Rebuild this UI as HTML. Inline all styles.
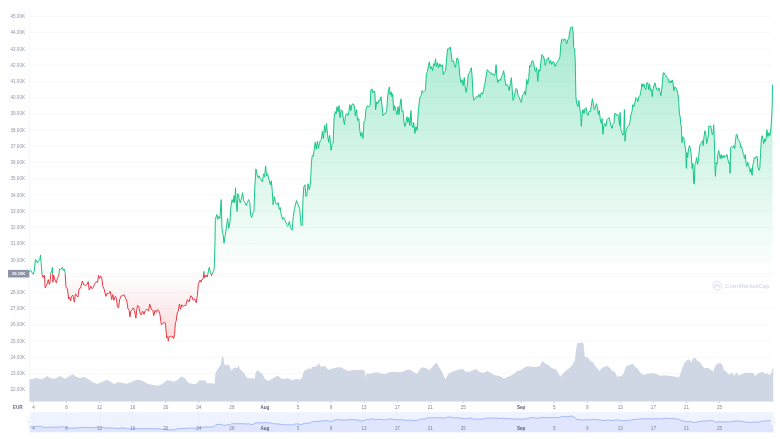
<!DOCTYPE html>
<html lang="en"><head><meta charset="utf-8"><title>Bitcoin price chart (EUR)</title>
<style>html,body{margin:0;padding:0;background:#fff}body{width:780px;height:439px;overflow:hidden}svg{display:block}text{font-family:"Liberation Sans",Arial,sans-serif}</style></head><body>
<svg width="780" height="439" viewBox="0 0 780 439">
<defs>
<linearGradient id="gg" gradientUnits="userSpaceOnUse" x1="0" y1="27" x2="0" y2="273.7"><stop offset="0" stop-color="#16c784" stop-opacity="0.38"/><stop offset="1" stop-color="#16c784" stop-opacity="0"/></linearGradient>
<linearGradient id="rg" gradientUnits="userSpaceOnUse" x1="0" y1="273.7" x2="0" y2="341"><stop offset="0" stop-color="#ea3943" stop-opacity="0"/><stop offset="1" stop-color="#ea3943" stop-opacity="0.19"/></linearGradient>
<clipPath id="up"><rect x="0" y="0" width="780" height="274.2"/></clipPath>
<clipPath id="dn"><rect x="0" y="274.2" width="780" height="200"/></clipPath>
</defs>
<rect width="780" height="439" fill="#fff"/>
<path d="M29.5 16.4 H773.4 M29.5 32.6 H773.4 M29.5 48.9 H773.4 M29.5 65.1 H773.4 M29.5 81.3 H773.4 M29.5 97.6 H773.4 M29.5 113.8 H773.4 M29.5 130 H773.4 M29.5 146.2 H773.4 M29.5 162.5 H773.4 M29.5 178.7 H773.4 M29.5 194.9 H773.4 M29.5 211.2 H773.4 M29.5 227.4 H773.4 M29.5 243.6 H773.4 M29.5 259.9 H773.4 M29.5 276.1 H773.4 M29.5 292.3 H773.4 M29.5 308.5 H773.4 M29.5 324.8 H773.4 M29.5 341 H773.4 M29.5 357.2 H773.4 M29.5 373.5 H773.4 M29.5 389.7 H773.4" stroke="#f1f3f6" stroke-width="0.6" fill="none"/>
<path d="M29.5 6.5 V401.5" stroke="#eff2f5" stroke-width="0.6" fill="none"/>
<g font-size="4.6" fill="#8e96aa" text-anchor="end">
<text x="25" y="18">45.00K</text>
<text x="25" y="34.2">44.00K</text>
<text x="25" y="50.5">43.00K</text>
<text x="25" y="66.7">42.00K</text>
<text x="25" y="82.9">41.00K</text>
<text x="25" y="99.2">40.00K</text>
<text x="25" y="115.4">39.00K</text>
<text x="25" y="131.6">38.00K</text>
<text x="25" y="147.8">37.00K</text>
<text x="25" y="164.1">36.00K</text>
<text x="25" y="180.3">35.00K</text>
<text x="25" y="196.5">34.00K</text>
<text x="25" y="212.8">33.00K</text>
<text x="25" y="229">32.00K</text>
<text x="25" y="245.2">31.00K</text>
<text x="25" y="261.5">30.00K</text>
<text x="25" y="293.9">28.00K</text>
<text x="25" y="310.1">27.00K</text>
<text x="25" y="326.4">26.00K</text>
<text x="25" y="342.6">25.00K</text>
<text x="25" y="358.8">24.00K</text>
<text x="25" y="375.1">23.00K</text>
<text x="25" y="391.3">22.00K</text>
</g>
<path d="M29 271.5 L30.9 270.5 L32.1 272.8 L33.3 274.3 L34.4 270.5 L35.4 259.7 L36.4 260.3 L37.4 263.1 L38.3 260.8 L39.8 259.7 L40.5 254.9 L41 261.3 L42.1 274.6 L43 277.5 L44.4 275.1 L45.2 287.9 L46.5 285.4 L47.5 282.8 L48.3 279.7 L49.3 284.4 L50.1 281.8 L50.8 273.1 L51.8 270.5 L52.4 267.4 L52.9 282.3 L53.6 275.1 L54.9 279.7 L56.4 282.8 L57.5 277.7 L58.6 276.2 L59.6 269 L60.8 269.5 L62.4 267.2 L63.4 270.5 L64.2 269 L65.1 272.4 L66 287.4 L67.4 288.7 L68.7 299 L69.6 297.1 L70.6 300.9 L71.5 296.4 L72.8 295.1 L74.4 302.2 L75.4 293.8 L76.7 295.8 L77.9 297.1 L79.2 288.7 L80.5 288.1 L82.4 281 L83.7 284.9 L85.6 285.5 L87.2 284.2 L88.2 281.7 L89.2 290 L90.8 286.2 L92.1 288.7 L93.3 287.4 L94.6 284.2 L96.2 281.7 L97.6 282.3 L98.5 275.3 L99.5 278.5 L100.5 275.9 L101.7 277.8 L102.9 286.2 L104.2 289.4 L105.9 296.4 L107.2 293.2 L108.7 293.8 L110.3 291.3 L111.7 299.6 L112.8 294.5 L113.8 300.3 L115.4 296.4 L116.4 298.3 L117.4 306.7 L118.6 307.9 L119.6 299.6 L121.3 295.8 L122.8 295.8 L123.8 294.5 L125.4 297.7 L126.9 301.5 L127.9 308.6 L129.2 310.5 L130 316.9 L130.8 311.2 L132.1 309.9 L133.3 307.9 L134.4 310.5 L135.9 318.2 L136.9 308.6 L137.7 305.4 L138.8 306.7 L140.1 313.1 L141.2 315 L142.7 311.2 L144 314.4 L145.3 310.5 L146.9 309.2 L148.5 311.2 L149.7 304.1 L151.5 309.8 L152.8 310.4 L153.8 315.6 L155.1 310.4 L156.4 312.4 L157.4 309.8 L158.7 310.4 L160 314.9 L161.3 324.5 L162.8 323.9 L164.4 322 L165.4 323.3 L166.7 338 L167.7 336.7 L168.3 341.2 L169.2 336.7 L170.5 336.1 L171.8 337.4 L172.8 336.1 L173.7 338.6 L174.6 334.2 L175.4 322.6 L176.3 320.7 L177.2 313 L178.2 311.1 L179.5 304 L180.5 309.2 L181.8 304.7 L183.1 306.6 L184.4 305.3 L185.6 305.9 L187.4 299.5 L189.1 302.1 L190.8 295.7 L192.1 297 L193.2 300.2 L194.6 298.9 L196.2 302.7 L197.4 295.7 L198.3 284.1 L200 280.2 L200.9 282.2 L201.8 279.6 L203.2 278.9 L203.8 271.3 L204.7 277.7 L206 275.1 L207.3 277 L209.2 267.4 L210.5 272.5 L211.5 275.7 L213.1 271.9 L214.1 269.3 L214.6 257.8 L215 242.4 L215.3 219.4 L216.9 214.5 L217.7 219.4 L218.9 216.4 L219.9 218.4 L221.2 199.6 L222 229.3 L223.2 235.2 L224 243.2 L225.2 235.2 L226.4 227.3 L227.6 218.4 L228.8 228.3 L230 221.4 L230.9 206.5 L232.1 199.6 L233.1 202.6 L234.1 195.6 L234.7 202.6 L235.5 187.7 L236.3 202.6 L237.1 211.5 L237.9 193.7 L239.1 198.6 L240.2 202.6 L241.4 198.6 L242.6 192.7 L243.6 200.6 L245 202.6 L246.2 205.5 L247.4 202.6 L248.6 199.6 L249.8 202.6 L250.7 215.4 L251.7 217.4 L252.7 213.5 L253.9 211.5 L254.7 189.7 L255.9 168.9 L256.9 173.9 L258.1 177.8 L259.1 175.8 L260.4 178.8 L262.4 181.8 L263.6 173.9 L264.6 176.8 L265.6 165.9 L266.6 175.8 L267.6 173.9 L268.8 178.8 L270.3 184.8 L271.3 180.8 L272.3 191.7 L273.1 204.6 L274.3 196.6 L275.5 202.6 L276.9 204.6 L278.1 202.6 L279.3 209.5 L280.2 207.5 L281.2 214.5 L282.6 219.4 L283.6 217.4 L285.2 220.4 L286.6 224.4 L287.8 226.3 L289.4 221.4 L290.5 227.3 L292.1 230.3 L293.3 216.4 L294.5 208.5 L296.5 200.6 L298.1 204.6 L299.7 208.5 L301 225.3 L302.2 225.3 L303 199.6 L303.8 186.7 L305 184.8 L306 196.6 L306.8 195.6 L308 183.8 L309.4 189.7 L310.5 182.8 L311.5 161.5 L312.3 155.2 L313.3 156.2 L314.3 148.3 L315.2 142.3 L316.2 149.3 L317.4 141.3 L318.4 148.3 L319.4 143.3 L320.4 140.3 L321.4 139.4 L322.4 131.4 L323.4 138.4 L324.6 125.5 L325.5 132.4 L326.5 123.5 L327.5 134.4 L328.7 142.3 L329.7 135.4 L331.1 150.2 L332.1 144.3 L333.1 143.3 L334.1 117.6 L335.2 111.6 L336.2 113.6 L337 106.7 L338 111.6 L339 105.7 L340 117.6 L341.2 109.7 L342.2 110.6 L343.2 117.6 L344.4 124.5 L345.5 115.6 L346.7 113.6 L347.9 115.6 L348.9 111.6 L349.9 104.7 L350.9 110.6 L351.9 104.7 L353.1 103.7 L354.3 105.7 L355.4 115.6 L356.4 109.7 L357.6 120.5 L358.8 118.6 L359.8 130.4 L360.8 136.4 L361.8 132.4 L363 138.4 L364 121.5 L365 120.5 L365.9 109.7 L367.3 105.7 L368.9 106.7 L370.1 105.7 L370.9 89.9 L371.9 88.9 L372.9 92.8 L374.1 90.8 L374.9 92.8 L375.6 109.7 L376.8 101.7 L377.8 103.7 L379 99.8 L380 100.7 L381 96.8 L382 105.7 L383 115.6 L384.4 113.6 L385.7 113.6 L386.7 110.6 L387.7 95.8 L388.5 90.8 L389.3 86.9 L390.1 94.8 L391.1 91.8 L391.9 96.8 L392.7 93.8 L393.7 110.6 L394.7 105.7 L395.8 110.6 L397 114.6 L398 106.7 L399 114.6 L400 104.7 L401 98.8 L402 111.6 L403 110.6 L404 122.5 L405 126.5 L406.1 121.5 L406.9 116.6 L407.9 122.5 L408.9 117.6 L409.9 125.5 L410.9 110.6 L411.9 124.5 L412.9 127.5 L413.7 122.5 L414.9 133.4 L416 126.5 L417.2 130.4 L418.4 109.7 L419.9 97.4 L421.1 95.4 L422.1 90.5 L423.3 92.5 L424.3 91.5 L425.4 90.5 L426.4 73.6 L427.4 71.7 L428.4 65.7 L429.4 61.8 L430.4 68.7 L431.4 66.7 L432.6 70.7 L433.6 63.7 L434.6 65.7 L435.5 58.8 L436.5 66.7 L437.5 62.8 L438.7 67.7 L439.9 63.7 L441.1 66.7 L442.3 64.7 L443.3 74.6 L444.5 71.7 L445.6 70.7 L446.6 58.8 L447.6 48.9 L449 48.9 L450.2 46.9 L451.2 53.8 L452.2 61.8 L453.4 60.8 L454.4 64.7 L455.5 67.7 L456.7 58.8 L457.7 57.8 L458.9 64.7 L459.9 76.6 L460.9 82.6 L462.1 79.6 L463.1 85.5 L464.3 77.6 L465.2 86.5 L466.2 92.5 L467.2 86.5 L468.2 74.6 L469.4 72.7 L470.4 70.7 L471.4 67.7 L472.2 77.6 L473 95.4 L474 100.4 L475.3 98.4 L476.5 96.4 L477.7 97.4 L478.9 94.4 L480.1 97.4 L481.3 92.5 L482.5 94.4 L483.7 89.5 L484.9 83.5 L486 76.6 L487.2 69.7 L488.4 70.7 L489.6 72.7 L490.8 72.7 L492 74.6 L493.2 73.6 L494.4 75.6 L495.3 73.6 L496.1 64.7 L496.9 77.6 L497.9 82.6 L499.1 79.6 L500.3 80.6 L501.5 76.6 L502.7 74.6 L503.7 70.7 L504.7 77.6 L505.8 85.5 L507 84.5 L508.2 86.5 L509.2 90.5 L510.4 82.6 L511.4 77.6 L512.2 89.5 L513 100.4 L514.2 97.4 L515.1 92.5 L516.1 88.5 L517.1 89.5 L518.1 95.4 L519.3 97.4 L520.3 100.4 L521.3 102.4 L522.4 95.2 L523.6 94.2 L524.8 91.2 L525.5 95.2 L526.7 79.4 L527.7 84.3 L528.7 78.4 L529.7 65.5 L530.7 66.5 L531.7 61.5 L532.7 60.5 L533.7 63.5 L534.7 69.5 L535.6 71.4 L536.6 67.5 L537.8 81.3 L538.8 69.5 L539.8 71.4 L540.8 62.5 L541.8 54.6 L543 55.6 L544.2 58.6 L545.3 65.5 L546.3 61.5 L547.3 58.6 L548.5 57.6 L549.7 63.5 L550.7 60.5 L551.7 64.5 L552.9 61.5 L554.1 62.5 L555.2 66.5 L556.4 63.5 L557.6 61.5 L558.8 59.6 L560 56.6 L560.8 44.7 L561.6 39.8 L562.6 38.8 L563.6 40.7 L564.8 38.8 L565.9 40.7 L566.7 43.7 L567.7 39.8 L568.7 38.8 L569.7 31.8 L570.5 27.9 L571.5 26.9 L572.5 26.9 L573.1 31.8 L573.7 47.7 L574.5 48.7 L575.2 59.6 L575.6 80 L575.9 96.7 L576.7 103.6 L577.9 106.6 L578.9 100.6 L579.9 109.6 L580.7 113.5 L581.3 126.4 L582.1 114.5 L583 109.6 L584 113.5 L585 108.6 L586 107.6 L587 113.5 L588 115.5 L589 111.5 L590.2 111.5 L591.2 106.6 L592.4 98.7 L593.3 103.6 L594.3 109.6 L595.3 107.6 L596.3 103.6 L597.3 106.6 L598.3 114.5 L599.3 110.5 L600.3 119.5 L601.3 123.4 L602.1 118.5 L602.9 134.3 L603.8 125.4 L604.8 123.4 L605.8 126.4 L607 119.5 L608 118.5 L609 117.5 L610 121.4 L611 125.4 L612 128.4 L613 124.4 L613.9 123.4 L614.7 113.5 L615.7 113.5 L616.7 115.5 L617.7 114.5 L618.7 116.5 L619.5 125.4 L620.1 112.5 L620.9 129.4 L621.9 132.3 L622.9 135.3 L623.8 133.3 L624.4 109.6 L625 141.2 L625.8 132.3 L626.8 128.4 L627.8 126.4 L629 125.4 L630 121.4 L631 114.5 L632 111.5 L632.8 104.6 L633.9 106.6 L634.9 102.6 L635.9 97.7 L636.9 98.7 L637.9 101.6 L638.9 96.7 L639.9 95.7 L640.9 91.7 L641.9 83.8 L642.9 86.8 L643.8 83.8 L644.8 87.8 L645.8 89.8 L646.8 82.8 L647.8 82.8 L648.8 89.8 L649.6 83.8 L650.6 90.7 L651.6 89.8 L652.2 96.7 L652.9 89.8 L653.9 85.8 L654.9 82.8 L655.9 86.8 L656.9 89.8 L657.9 90.7 L658.9 87.8 L659.9 91.7 L660.9 95.7 L661.7 89.8 L662.5 81.8 L663.2 72.9 L664.2 72.9 L665.2 74.9 L666.2 75.9 L667.2 77.9 L668.2 78.9 L669.2 82.8 L670.2 80.8 L671.2 82.8 L672.2 79.9 L673 82.8 L673.9 90.7 L674.9 86.8 L675.9 87.8 L676.9 89.8 L677.9 93.7 L678.7 101.6 L679.4 113.9 L680.2 116.9 L680.8 124.8 L681.4 126.8 L682 142.6 L682.8 136.7 L683.8 137.7 L684.6 143.6 L685.3 147.6 L685.9 152.5 L686.3 168.4 L686.9 152.5 L687.7 157.5 L688.5 148.6 L689.5 145.6 L690.5 149.6 L691.3 155.5 L692.1 168.4 L692.9 163.4 L693.7 183.2 L694.3 184.2 L694.9 164.4 L695.6 163.4 L696.6 157.5 L697.6 164.4 L698.6 157.5 L699.6 146.6 L700.6 143.6 L701.6 142.6 L702.6 140.6 L703.2 145.6 L704 136.7 L705 130.7 L705.9 134.7 L706.7 143.6 L707.5 139.7 L708.3 135.7 L708.9 125.8 L709.9 126.8 L710.7 125.8 L711.5 130.7 L712.3 134.7 L713.1 132.7 L713.7 124.8 L714.3 138.7 L714.9 164.4 L715.4 176.3 L716.2 162.4 L717 164.4 L717.8 154.5 L718.6 150.5 L719.4 153.5 L720.2 158.5 L721 154.5 L722 158.5 L723 155.5 L724 157.5 L725 155.5 L725.9 156.5 L726.9 154.5 L727.9 159.5 L728.9 163.4 L729.7 162.4 L730.1 173.3 L730.7 147.6 L731.7 146.6 L732.7 147.6 L733.7 145.6 L734.7 148.6 L735.4 141.6 L736.2 134.7 L737.2 134.7 L738 139.7 L739 140.6 L740 142.6 L740.8 147.6 L741.6 146.6 L742.6 151.5 L743.6 154.5 L744.6 158.5 L745.3 154.5 L746.1 163.4 L746.9 166.4 L747.7 162.4 L748.7 164.4 L749.5 169.4 L750.3 172.3 L751.1 168.4 L752.1 175.3 L752.7 165.4 L753.5 162.4 L754.3 157.5 L755.2 158.5 L756.2 156.5 L757.2 156.5 L758 167.4 L759 170.3 L759.8 168.4 L760.6 152.5 L761.4 138.7 L762.2 135.7 L763 139.7 L763.8 143.6 L764.6 138.7 L765.3 141.6 L766.1 138.7 L766.9 129.8 L767.9 136.7 L768.9 132.7 L769.9 135.7 L770.9 128.8 L771.7 116.9 L772.2 105 L772.5 84.8 L772.5 273.7 L29 273.7 Z" fill="url(#gg)" clip-path="url(#up)"/>
<path d="M29 271.5 L30.9 270.5 L32.1 272.8 L33.3 274.3 L34.4 270.5 L35.4 259.7 L36.4 260.3 L37.4 263.1 L38.3 260.8 L39.8 259.7 L40.5 254.9 L41 261.3 L42.1 274.6 L43 277.5 L44.4 275.1 L45.2 287.9 L46.5 285.4 L47.5 282.8 L48.3 279.7 L49.3 284.4 L50.1 281.8 L50.8 273.1 L51.8 270.5 L52.4 267.4 L52.9 282.3 L53.6 275.1 L54.9 279.7 L56.4 282.8 L57.5 277.7 L58.6 276.2 L59.6 269 L60.8 269.5 L62.4 267.2 L63.4 270.5 L64.2 269 L65.1 272.4 L66 287.4 L67.4 288.7 L68.7 299 L69.6 297.1 L70.6 300.9 L71.5 296.4 L72.8 295.1 L74.4 302.2 L75.4 293.8 L76.7 295.8 L77.9 297.1 L79.2 288.7 L80.5 288.1 L82.4 281 L83.7 284.9 L85.6 285.5 L87.2 284.2 L88.2 281.7 L89.2 290 L90.8 286.2 L92.1 288.7 L93.3 287.4 L94.6 284.2 L96.2 281.7 L97.6 282.3 L98.5 275.3 L99.5 278.5 L100.5 275.9 L101.7 277.8 L102.9 286.2 L104.2 289.4 L105.9 296.4 L107.2 293.2 L108.7 293.8 L110.3 291.3 L111.7 299.6 L112.8 294.5 L113.8 300.3 L115.4 296.4 L116.4 298.3 L117.4 306.7 L118.6 307.9 L119.6 299.6 L121.3 295.8 L122.8 295.8 L123.8 294.5 L125.4 297.7 L126.9 301.5 L127.9 308.6 L129.2 310.5 L130 316.9 L130.8 311.2 L132.1 309.9 L133.3 307.9 L134.4 310.5 L135.9 318.2 L136.9 308.6 L137.7 305.4 L138.8 306.7 L140.1 313.1 L141.2 315 L142.7 311.2 L144 314.4 L145.3 310.5 L146.9 309.2 L148.5 311.2 L149.7 304.1 L151.5 309.8 L152.8 310.4 L153.8 315.6 L155.1 310.4 L156.4 312.4 L157.4 309.8 L158.7 310.4 L160 314.9 L161.3 324.5 L162.8 323.9 L164.4 322 L165.4 323.3 L166.7 338 L167.7 336.7 L168.3 341.2 L169.2 336.7 L170.5 336.1 L171.8 337.4 L172.8 336.1 L173.7 338.6 L174.6 334.2 L175.4 322.6 L176.3 320.7 L177.2 313 L178.2 311.1 L179.5 304 L180.5 309.2 L181.8 304.7 L183.1 306.6 L184.4 305.3 L185.6 305.9 L187.4 299.5 L189.1 302.1 L190.8 295.7 L192.1 297 L193.2 300.2 L194.6 298.9 L196.2 302.7 L197.4 295.7 L198.3 284.1 L200 280.2 L200.9 282.2 L201.8 279.6 L203.2 278.9 L203.8 271.3 L204.7 277.7 L206 275.1 L207.3 277 L209.2 267.4 L210.5 272.5 L211.5 275.7 L213.1 271.9 L214.1 269.3 L214.6 257.8 L215 242.4 L215.3 219.4 L216.9 214.5 L217.7 219.4 L218.9 216.4 L219.9 218.4 L221.2 199.6 L222 229.3 L223.2 235.2 L224 243.2 L225.2 235.2 L226.4 227.3 L227.6 218.4 L228.8 228.3 L230 221.4 L230.9 206.5 L232.1 199.6 L233.1 202.6 L234.1 195.6 L234.7 202.6 L235.5 187.7 L236.3 202.6 L237.1 211.5 L237.9 193.7 L239.1 198.6 L240.2 202.6 L241.4 198.6 L242.6 192.7 L243.6 200.6 L245 202.6 L246.2 205.5 L247.4 202.6 L248.6 199.6 L249.8 202.6 L250.7 215.4 L251.7 217.4 L252.7 213.5 L253.9 211.5 L254.7 189.7 L255.9 168.9 L256.9 173.9 L258.1 177.8 L259.1 175.8 L260.4 178.8 L262.4 181.8 L263.6 173.9 L264.6 176.8 L265.6 165.9 L266.6 175.8 L267.6 173.9 L268.8 178.8 L270.3 184.8 L271.3 180.8 L272.3 191.7 L273.1 204.6 L274.3 196.6 L275.5 202.6 L276.9 204.6 L278.1 202.6 L279.3 209.5 L280.2 207.5 L281.2 214.5 L282.6 219.4 L283.6 217.4 L285.2 220.4 L286.6 224.4 L287.8 226.3 L289.4 221.4 L290.5 227.3 L292.1 230.3 L293.3 216.4 L294.5 208.5 L296.5 200.6 L298.1 204.6 L299.7 208.5 L301 225.3 L302.2 225.3 L303 199.6 L303.8 186.7 L305 184.8 L306 196.6 L306.8 195.6 L308 183.8 L309.4 189.7 L310.5 182.8 L311.5 161.5 L312.3 155.2 L313.3 156.2 L314.3 148.3 L315.2 142.3 L316.2 149.3 L317.4 141.3 L318.4 148.3 L319.4 143.3 L320.4 140.3 L321.4 139.4 L322.4 131.4 L323.4 138.4 L324.6 125.5 L325.5 132.4 L326.5 123.5 L327.5 134.4 L328.7 142.3 L329.7 135.4 L331.1 150.2 L332.1 144.3 L333.1 143.3 L334.1 117.6 L335.2 111.6 L336.2 113.6 L337 106.7 L338 111.6 L339 105.7 L340 117.6 L341.2 109.7 L342.2 110.6 L343.2 117.6 L344.4 124.5 L345.5 115.6 L346.7 113.6 L347.9 115.6 L348.9 111.6 L349.9 104.7 L350.9 110.6 L351.9 104.7 L353.1 103.7 L354.3 105.7 L355.4 115.6 L356.4 109.7 L357.6 120.5 L358.8 118.6 L359.8 130.4 L360.8 136.4 L361.8 132.4 L363 138.4 L364 121.5 L365 120.5 L365.9 109.7 L367.3 105.7 L368.9 106.7 L370.1 105.7 L370.9 89.9 L371.9 88.9 L372.9 92.8 L374.1 90.8 L374.9 92.8 L375.6 109.7 L376.8 101.7 L377.8 103.7 L379 99.8 L380 100.7 L381 96.8 L382 105.7 L383 115.6 L384.4 113.6 L385.7 113.6 L386.7 110.6 L387.7 95.8 L388.5 90.8 L389.3 86.9 L390.1 94.8 L391.1 91.8 L391.9 96.8 L392.7 93.8 L393.7 110.6 L394.7 105.7 L395.8 110.6 L397 114.6 L398 106.7 L399 114.6 L400 104.7 L401 98.8 L402 111.6 L403 110.6 L404 122.5 L405 126.5 L406.1 121.5 L406.9 116.6 L407.9 122.5 L408.9 117.6 L409.9 125.5 L410.9 110.6 L411.9 124.5 L412.9 127.5 L413.7 122.5 L414.9 133.4 L416 126.5 L417.2 130.4 L418.4 109.7 L419.9 97.4 L421.1 95.4 L422.1 90.5 L423.3 92.5 L424.3 91.5 L425.4 90.5 L426.4 73.6 L427.4 71.7 L428.4 65.7 L429.4 61.8 L430.4 68.7 L431.4 66.7 L432.6 70.7 L433.6 63.7 L434.6 65.7 L435.5 58.8 L436.5 66.7 L437.5 62.8 L438.7 67.7 L439.9 63.7 L441.1 66.7 L442.3 64.7 L443.3 74.6 L444.5 71.7 L445.6 70.7 L446.6 58.8 L447.6 48.9 L449 48.9 L450.2 46.9 L451.2 53.8 L452.2 61.8 L453.4 60.8 L454.4 64.7 L455.5 67.7 L456.7 58.8 L457.7 57.8 L458.9 64.7 L459.9 76.6 L460.9 82.6 L462.1 79.6 L463.1 85.5 L464.3 77.6 L465.2 86.5 L466.2 92.5 L467.2 86.5 L468.2 74.6 L469.4 72.7 L470.4 70.7 L471.4 67.7 L472.2 77.6 L473 95.4 L474 100.4 L475.3 98.4 L476.5 96.4 L477.7 97.4 L478.9 94.4 L480.1 97.4 L481.3 92.5 L482.5 94.4 L483.7 89.5 L484.9 83.5 L486 76.6 L487.2 69.7 L488.4 70.7 L489.6 72.7 L490.8 72.7 L492 74.6 L493.2 73.6 L494.4 75.6 L495.3 73.6 L496.1 64.7 L496.9 77.6 L497.9 82.6 L499.1 79.6 L500.3 80.6 L501.5 76.6 L502.7 74.6 L503.7 70.7 L504.7 77.6 L505.8 85.5 L507 84.5 L508.2 86.5 L509.2 90.5 L510.4 82.6 L511.4 77.6 L512.2 89.5 L513 100.4 L514.2 97.4 L515.1 92.5 L516.1 88.5 L517.1 89.5 L518.1 95.4 L519.3 97.4 L520.3 100.4 L521.3 102.4 L522.4 95.2 L523.6 94.2 L524.8 91.2 L525.5 95.2 L526.7 79.4 L527.7 84.3 L528.7 78.4 L529.7 65.5 L530.7 66.5 L531.7 61.5 L532.7 60.5 L533.7 63.5 L534.7 69.5 L535.6 71.4 L536.6 67.5 L537.8 81.3 L538.8 69.5 L539.8 71.4 L540.8 62.5 L541.8 54.6 L543 55.6 L544.2 58.6 L545.3 65.5 L546.3 61.5 L547.3 58.6 L548.5 57.6 L549.7 63.5 L550.7 60.5 L551.7 64.5 L552.9 61.5 L554.1 62.5 L555.2 66.5 L556.4 63.5 L557.6 61.5 L558.8 59.6 L560 56.6 L560.8 44.7 L561.6 39.8 L562.6 38.8 L563.6 40.7 L564.8 38.8 L565.9 40.7 L566.7 43.7 L567.7 39.8 L568.7 38.8 L569.7 31.8 L570.5 27.9 L571.5 26.9 L572.5 26.9 L573.1 31.8 L573.7 47.7 L574.5 48.7 L575.2 59.6 L575.6 80 L575.9 96.7 L576.7 103.6 L577.9 106.6 L578.9 100.6 L579.9 109.6 L580.7 113.5 L581.3 126.4 L582.1 114.5 L583 109.6 L584 113.5 L585 108.6 L586 107.6 L587 113.5 L588 115.5 L589 111.5 L590.2 111.5 L591.2 106.6 L592.4 98.7 L593.3 103.6 L594.3 109.6 L595.3 107.6 L596.3 103.6 L597.3 106.6 L598.3 114.5 L599.3 110.5 L600.3 119.5 L601.3 123.4 L602.1 118.5 L602.9 134.3 L603.8 125.4 L604.8 123.4 L605.8 126.4 L607 119.5 L608 118.5 L609 117.5 L610 121.4 L611 125.4 L612 128.4 L613 124.4 L613.9 123.4 L614.7 113.5 L615.7 113.5 L616.7 115.5 L617.7 114.5 L618.7 116.5 L619.5 125.4 L620.1 112.5 L620.9 129.4 L621.9 132.3 L622.9 135.3 L623.8 133.3 L624.4 109.6 L625 141.2 L625.8 132.3 L626.8 128.4 L627.8 126.4 L629 125.4 L630 121.4 L631 114.5 L632 111.5 L632.8 104.6 L633.9 106.6 L634.9 102.6 L635.9 97.7 L636.9 98.7 L637.9 101.6 L638.9 96.7 L639.9 95.7 L640.9 91.7 L641.9 83.8 L642.9 86.8 L643.8 83.8 L644.8 87.8 L645.8 89.8 L646.8 82.8 L647.8 82.8 L648.8 89.8 L649.6 83.8 L650.6 90.7 L651.6 89.8 L652.2 96.7 L652.9 89.8 L653.9 85.8 L654.9 82.8 L655.9 86.8 L656.9 89.8 L657.9 90.7 L658.9 87.8 L659.9 91.7 L660.9 95.7 L661.7 89.8 L662.5 81.8 L663.2 72.9 L664.2 72.9 L665.2 74.9 L666.2 75.9 L667.2 77.9 L668.2 78.9 L669.2 82.8 L670.2 80.8 L671.2 82.8 L672.2 79.9 L673 82.8 L673.9 90.7 L674.9 86.8 L675.9 87.8 L676.9 89.8 L677.9 93.7 L678.7 101.6 L679.4 113.9 L680.2 116.9 L680.8 124.8 L681.4 126.8 L682 142.6 L682.8 136.7 L683.8 137.7 L684.6 143.6 L685.3 147.6 L685.9 152.5 L686.3 168.4 L686.9 152.5 L687.7 157.5 L688.5 148.6 L689.5 145.6 L690.5 149.6 L691.3 155.5 L692.1 168.4 L692.9 163.4 L693.7 183.2 L694.3 184.2 L694.9 164.4 L695.6 163.4 L696.6 157.5 L697.6 164.4 L698.6 157.5 L699.6 146.6 L700.6 143.6 L701.6 142.6 L702.6 140.6 L703.2 145.6 L704 136.7 L705 130.7 L705.9 134.7 L706.7 143.6 L707.5 139.7 L708.3 135.7 L708.9 125.8 L709.9 126.8 L710.7 125.8 L711.5 130.7 L712.3 134.7 L713.1 132.7 L713.7 124.8 L714.3 138.7 L714.9 164.4 L715.4 176.3 L716.2 162.4 L717 164.4 L717.8 154.5 L718.6 150.5 L719.4 153.5 L720.2 158.5 L721 154.5 L722 158.5 L723 155.5 L724 157.5 L725 155.5 L725.9 156.5 L726.9 154.5 L727.9 159.5 L728.9 163.4 L729.7 162.4 L730.1 173.3 L730.7 147.6 L731.7 146.6 L732.7 147.6 L733.7 145.6 L734.7 148.6 L735.4 141.6 L736.2 134.7 L737.2 134.7 L738 139.7 L739 140.6 L740 142.6 L740.8 147.6 L741.6 146.6 L742.6 151.5 L743.6 154.5 L744.6 158.5 L745.3 154.5 L746.1 163.4 L746.9 166.4 L747.7 162.4 L748.7 164.4 L749.5 169.4 L750.3 172.3 L751.1 168.4 L752.1 175.3 L752.7 165.4 L753.5 162.4 L754.3 157.5 L755.2 158.5 L756.2 156.5 L757.2 156.5 L758 167.4 L759 170.3 L759.8 168.4 L760.6 152.5 L761.4 138.7 L762.2 135.7 L763 139.7 L763.8 143.6 L764.6 138.7 L765.3 141.6 L766.1 138.7 L766.9 129.8 L767.9 136.7 L768.9 132.7 L769.9 135.7 L770.9 128.8 L771.7 116.9 L772.2 105 L772.5 84.8 L772.5 273.7 L29 273.7 Z" fill="url(#rg)" clip-path="url(#dn)"/>
<path d="M29.5 273.7 H773.4" stroke="#ced3de" stroke-width="0.6" stroke-dasharray="0.6 1.35" fill="none"/>
<path d="M29 271.5 L30.9 270.5 L32.1 272.8 L33.3 274.3 L34.4 270.5 L35.4 259.7 L36.4 260.3 L37.4 263.1 L38.3 260.8 L39.8 259.7 L40.5 254.9 L41 261.3 L42.1 274.6 L43 277.5 L44.4 275.1 L45.2 287.9 L46.5 285.4 L47.5 282.8 L48.3 279.7 L49.3 284.4 L50.1 281.8 L50.8 273.1 L51.8 270.5 L52.4 267.4 L52.9 282.3 L53.6 275.1 L54.9 279.7 L56.4 282.8 L57.5 277.7 L58.6 276.2 L59.6 269 L60.8 269.5 L62.4 267.2 L63.4 270.5 L64.2 269 L65.1 272.4 L66 287.4 L67.4 288.7 L68.7 299 L69.6 297.1 L70.6 300.9 L71.5 296.4 L72.8 295.1 L74.4 302.2 L75.4 293.8 L76.7 295.8 L77.9 297.1 L79.2 288.7 L80.5 288.1 L82.4 281 L83.7 284.9 L85.6 285.5 L87.2 284.2 L88.2 281.7 L89.2 290 L90.8 286.2 L92.1 288.7 L93.3 287.4 L94.6 284.2 L96.2 281.7 L97.6 282.3 L98.5 275.3 L99.5 278.5 L100.5 275.9 L101.7 277.8 L102.9 286.2 L104.2 289.4 L105.9 296.4 L107.2 293.2 L108.7 293.8 L110.3 291.3 L111.7 299.6 L112.8 294.5 L113.8 300.3 L115.4 296.4 L116.4 298.3 L117.4 306.7 L118.6 307.9 L119.6 299.6 L121.3 295.8 L122.8 295.8 L123.8 294.5 L125.4 297.7 L126.9 301.5 L127.9 308.6 L129.2 310.5 L130 316.9 L130.8 311.2 L132.1 309.9 L133.3 307.9 L134.4 310.5 L135.9 318.2 L136.9 308.6 L137.7 305.4 L138.8 306.7 L140.1 313.1 L141.2 315 L142.7 311.2 L144 314.4 L145.3 310.5 L146.9 309.2 L148.5 311.2 L149.7 304.1 L151.5 309.8 L152.8 310.4 L153.8 315.6 L155.1 310.4 L156.4 312.4 L157.4 309.8 L158.7 310.4 L160 314.9 L161.3 324.5 L162.8 323.9 L164.4 322 L165.4 323.3 L166.7 338 L167.7 336.7 L168.3 341.2 L169.2 336.7 L170.5 336.1 L171.8 337.4 L172.8 336.1 L173.7 338.6 L174.6 334.2 L175.4 322.6 L176.3 320.7 L177.2 313 L178.2 311.1 L179.5 304 L180.5 309.2 L181.8 304.7 L183.1 306.6 L184.4 305.3 L185.6 305.9 L187.4 299.5 L189.1 302.1 L190.8 295.7 L192.1 297 L193.2 300.2 L194.6 298.9 L196.2 302.7 L197.4 295.7 L198.3 284.1 L200 280.2 L200.9 282.2 L201.8 279.6 L203.2 278.9 L203.8 271.3 L204.7 277.7 L206 275.1 L207.3 277 L209.2 267.4 L210.5 272.5 L211.5 275.7 L213.1 271.9 L214.1 269.3 L214.6 257.8 L215 242.4 L215.3 219.4 L216.9 214.5 L217.7 219.4 L218.9 216.4 L219.9 218.4 L221.2 199.6 L222 229.3 L223.2 235.2 L224 243.2 L225.2 235.2 L226.4 227.3 L227.6 218.4 L228.8 228.3 L230 221.4 L230.9 206.5 L232.1 199.6 L233.1 202.6 L234.1 195.6 L234.7 202.6 L235.5 187.7 L236.3 202.6 L237.1 211.5 L237.9 193.7 L239.1 198.6 L240.2 202.6 L241.4 198.6 L242.6 192.7 L243.6 200.6 L245 202.6 L246.2 205.5 L247.4 202.6 L248.6 199.6 L249.8 202.6 L250.7 215.4 L251.7 217.4 L252.7 213.5 L253.9 211.5 L254.7 189.7 L255.9 168.9 L256.9 173.9 L258.1 177.8 L259.1 175.8 L260.4 178.8 L262.4 181.8 L263.6 173.9 L264.6 176.8 L265.6 165.9 L266.6 175.8 L267.6 173.9 L268.8 178.8 L270.3 184.8 L271.3 180.8 L272.3 191.7 L273.1 204.6 L274.3 196.6 L275.5 202.6 L276.9 204.6 L278.1 202.6 L279.3 209.5 L280.2 207.5 L281.2 214.5 L282.6 219.4 L283.6 217.4 L285.2 220.4 L286.6 224.4 L287.8 226.3 L289.4 221.4 L290.5 227.3 L292.1 230.3 L293.3 216.4 L294.5 208.5 L296.5 200.6 L298.1 204.6 L299.7 208.5 L301 225.3 L302.2 225.3 L303 199.6 L303.8 186.7 L305 184.8 L306 196.6 L306.8 195.6 L308 183.8 L309.4 189.7 L310.5 182.8 L311.5 161.5 L312.3 155.2 L313.3 156.2 L314.3 148.3 L315.2 142.3 L316.2 149.3 L317.4 141.3 L318.4 148.3 L319.4 143.3 L320.4 140.3 L321.4 139.4 L322.4 131.4 L323.4 138.4 L324.6 125.5 L325.5 132.4 L326.5 123.5 L327.5 134.4 L328.7 142.3 L329.7 135.4 L331.1 150.2 L332.1 144.3 L333.1 143.3 L334.1 117.6 L335.2 111.6 L336.2 113.6 L337 106.7 L338 111.6 L339 105.7 L340 117.6 L341.2 109.7 L342.2 110.6 L343.2 117.6 L344.4 124.5 L345.5 115.6 L346.7 113.6 L347.9 115.6 L348.9 111.6 L349.9 104.7 L350.9 110.6 L351.9 104.7 L353.1 103.7 L354.3 105.7 L355.4 115.6 L356.4 109.7 L357.6 120.5 L358.8 118.6 L359.8 130.4 L360.8 136.4 L361.8 132.4 L363 138.4 L364 121.5 L365 120.5 L365.9 109.7 L367.3 105.7 L368.9 106.7 L370.1 105.7 L370.9 89.9 L371.9 88.9 L372.9 92.8 L374.1 90.8 L374.9 92.8 L375.6 109.7 L376.8 101.7 L377.8 103.7 L379 99.8 L380 100.7 L381 96.8 L382 105.7 L383 115.6 L384.4 113.6 L385.7 113.6 L386.7 110.6 L387.7 95.8 L388.5 90.8 L389.3 86.9 L390.1 94.8 L391.1 91.8 L391.9 96.8 L392.7 93.8 L393.7 110.6 L394.7 105.7 L395.8 110.6 L397 114.6 L398 106.7 L399 114.6 L400 104.7 L401 98.8 L402 111.6 L403 110.6 L404 122.5 L405 126.5 L406.1 121.5 L406.9 116.6 L407.9 122.5 L408.9 117.6 L409.9 125.5 L410.9 110.6 L411.9 124.5 L412.9 127.5 L413.7 122.5 L414.9 133.4 L416 126.5 L417.2 130.4 L418.4 109.7 L419.9 97.4 L421.1 95.4 L422.1 90.5 L423.3 92.5 L424.3 91.5 L425.4 90.5 L426.4 73.6 L427.4 71.7 L428.4 65.7 L429.4 61.8 L430.4 68.7 L431.4 66.7 L432.6 70.7 L433.6 63.7 L434.6 65.7 L435.5 58.8 L436.5 66.7 L437.5 62.8 L438.7 67.7 L439.9 63.7 L441.1 66.7 L442.3 64.7 L443.3 74.6 L444.5 71.7 L445.6 70.7 L446.6 58.8 L447.6 48.9 L449 48.9 L450.2 46.9 L451.2 53.8 L452.2 61.8 L453.4 60.8 L454.4 64.7 L455.5 67.7 L456.7 58.8 L457.7 57.8 L458.9 64.7 L459.9 76.6 L460.9 82.6 L462.1 79.6 L463.1 85.5 L464.3 77.6 L465.2 86.5 L466.2 92.5 L467.2 86.5 L468.2 74.6 L469.4 72.7 L470.4 70.7 L471.4 67.7 L472.2 77.6 L473 95.4 L474 100.4 L475.3 98.4 L476.5 96.4 L477.7 97.4 L478.9 94.4 L480.1 97.4 L481.3 92.5 L482.5 94.4 L483.7 89.5 L484.9 83.5 L486 76.6 L487.2 69.7 L488.4 70.7 L489.6 72.7 L490.8 72.7 L492 74.6 L493.2 73.6 L494.4 75.6 L495.3 73.6 L496.1 64.7 L496.9 77.6 L497.9 82.6 L499.1 79.6 L500.3 80.6 L501.5 76.6 L502.7 74.6 L503.7 70.7 L504.7 77.6 L505.8 85.5 L507 84.5 L508.2 86.5 L509.2 90.5 L510.4 82.6 L511.4 77.6 L512.2 89.5 L513 100.4 L514.2 97.4 L515.1 92.5 L516.1 88.5 L517.1 89.5 L518.1 95.4 L519.3 97.4 L520.3 100.4 L521.3 102.4 L522.4 95.2 L523.6 94.2 L524.8 91.2 L525.5 95.2 L526.7 79.4 L527.7 84.3 L528.7 78.4 L529.7 65.5 L530.7 66.5 L531.7 61.5 L532.7 60.5 L533.7 63.5 L534.7 69.5 L535.6 71.4 L536.6 67.5 L537.8 81.3 L538.8 69.5 L539.8 71.4 L540.8 62.5 L541.8 54.6 L543 55.6 L544.2 58.6 L545.3 65.5 L546.3 61.5 L547.3 58.6 L548.5 57.6 L549.7 63.5 L550.7 60.5 L551.7 64.5 L552.9 61.5 L554.1 62.5 L555.2 66.5 L556.4 63.5 L557.6 61.5 L558.8 59.6 L560 56.6 L560.8 44.7 L561.6 39.8 L562.6 38.8 L563.6 40.7 L564.8 38.8 L565.9 40.7 L566.7 43.7 L567.7 39.8 L568.7 38.8 L569.7 31.8 L570.5 27.9 L571.5 26.9 L572.5 26.9 L573.1 31.8 L573.7 47.7 L574.5 48.7 L575.2 59.6 L575.6 80 L575.9 96.7 L576.7 103.6 L577.9 106.6 L578.9 100.6 L579.9 109.6 L580.7 113.5 L581.3 126.4 L582.1 114.5 L583 109.6 L584 113.5 L585 108.6 L586 107.6 L587 113.5 L588 115.5 L589 111.5 L590.2 111.5 L591.2 106.6 L592.4 98.7 L593.3 103.6 L594.3 109.6 L595.3 107.6 L596.3 103.6 L597.3 106.6 L598.3 114.5 L599.3 110.5 L600.3 119.5 L601.3 123.4 L602.1 118.5 L602.9 134.3 L603.8 125.4 L604.8 123.4 L605.8 126.4 L607 119.5 L608 118.5 L609 117.5 L610 121.4 L611 125.4 L612 128.4 L613 124.4 L613.9 123.4 L614.7 113.5 L615.7 113.5 L616.7 115.5 L617.7 114.5 L618.7 116.5 L619.5 125.4 L620.1 112.5 L620.9 129.4 L621.9 132.3 L622.9 135.3 L623.8 133.3 L624.4 109.6 L625 141.2 L625.8 132.3 L626.8 128.4 L627.8 126.4 L629 125.4 L630 121.4 L631 114.5 L632 111.5 L632.8 104.6 L633.9 106.6 L634.9 102.6 L635.9 97.7 L636.9 98.7 L637.9 101.6 L638.9 96.7 L639.9 95.7 L640.9 91.7 L641.9 83.8 L642.9 86.8 L643.8 83.8 L644.8 87.8 L645.8 89.8 L646.8 82.8 L647.8 82.8 L648.8 89.8 L649.6 83.8 L650.6 90.7 L651.6 89.8 L652.2 96.7 L652.9 89.8 L653.9 85.8 L654.9 82.8 L655.9 86.8 L656.9 89.8 L657.9 90.7 L658.9 87.8 L659.9 91.7 L660.9 95.7 L661.7 89.8 L662.5 81.8 L663.2 72.9 L664.2 72.9 L665.2 74.9 L666.2 75.9 L667.2 77.9 L668.2 78.9 L669.2 82.8 L670.2 80.8 L671.2 82.8 L672.2 79.9 L673 82.8 L673.9 90.7 L674.9 86.8 L675.9 87.8 L676.9 89.8 L677.9 93.7 L678.7 101.6 L679.4 113.9 L680.2 116.9 L680.8 124.8 L681.4 126.8 L682 142.6 L682.8 136.7 L683.8 137.7 L684.6 143.6 L685.3 147.6 L685.9 152.5 L686.3 168.4 L686.9 152.5 L687.7 157.5 L688.5 148.6 L689.5 145.6 L690.5 149.6 L691.3 155.5 L692.1 168.4 L692.9 163.4 L693.7 183.2 L694.3 184.2 L694.9 164.4 L695.6 163.4 L696.6 157.5 L697.6 164.4 L698.6 157.5 L699.6 146.6 L700.6 143.6 L701.6 142.6 L702.6 140.6 L703.2 145.6 L704 136.7 L705 130.7 L705.9 134.7 L706.7 143.6 L707.5 139.7 L708.3 135.7 L708.9 125.8 L709.9 126.8 L710.7 125.8 L711.5 130.7 L712.3 134.7 L713.1 132.7 L713.7 124.8 L714.3 138.7 L714.9 164.4 L715.4 176.3 L716.2 162.4 L717 164.4 L717.8 154.5 L718.6 150.5 L719.4 153.5 L720.2 158.5 L721 154.5 L722 158.5 L723 155.5 L724 157.5 L725 155.5 L725.9 156.5 L726.9 154.5 L727.9 159.5 L728.9 163.4 L729.7 162.4 L730.1 173.3 L730.7 147.6 L731.7 146.6 L732.7 147.6 L733.7 145.6 L734.7 148.6 L735.4 141.6 L736.2 134.7 L737.2 134.7 L738 139.7 L739 140.6 L740 142.6 L740.8 147.6 L741.6 146.6 L742.6 151.5 L743.6 154.5 L744.6 158.5 L745.3 154.5 L746.1 163.4 L746.9 166.4 L747.7 162.4 L748.7 164.4 L749.5 169.4 L750.3 172.3 L751.1 168.4 L752.1 175.3 L752.7 165.4 L753.5 162.4 L754.3 157.5 L755.2 158.5 L756.2 156.5 L757.2 156.5 L758 167.4 L759 170.3 L759.8 168.4 L760.6 152.5 L761.4 138.7 L762.2 135.7 L763 139.7 L763.8 143.6 L764.6 138.7 L765.3 141.6 L766.1 138.7 L766.9 129.8 L767.9 136.7 L768.9 132.7 L769.9 135.7 L770.9 128.8 L771.7 116.9 L772.2 105 L772.5 84.8" fill="none" stroke="#16c784" stroke-width="1" stroke-linejoin="round" clip-path="url(#up)"/>
<path d="M29 271.5 L30.9 270.5 L32.1 272.8 L33.3 274.3 L34.4 270.5 L35.4 259.7 L36.4 260.3 L37.4 263.1 L38.3 260.8 L39.8 259.7 L40.5 254.9 L41 261.3 L42.1 274.6 L43 277.5 L44.4 275.1 L45.2 287.9 L46.5 285.4 L47.5 282.8 L48.3 279.7 L49.3 284.4 L50.1 281.8 L50.8 273.1 L51.8 270.5 L52.4 267.4 L52.9 282.3 L53.6 275.1 L54.9 279.7 L56.4 282.8 L57.5 277.7 L58.6 276.2 L59.6 269 L60.8 269.5 L62.4 267.2 L63.4 270.5 L64.2 269 L65.1 272.4 L66 287.4 L67.4 288.7 L68.7 299 L69.6 297.1 L70.6 300.9 L71.5 296.4 L72.8 295.1 L74.4 302.2 L75.4 293.8 L76.7 295.8 L77.9 297.1 L79.2 288.7 L80.5 288.1 L82.4 281 L83.7 284.9 L85.6 285.5 L87.2 284.2 L88.2 281.7 L89.2 290 L90.8 286.2 L92.1 288.7 L93.3 287.4 L94.6 284.2 L96.2 281.7 L97.6 282.3 L98.5 275.3 L99.5 278.5 L100.5 275.9 L101.7 277.8 L102.9 286.2 L104.2 289.4 L105.9 296.4 L107.2 293.2 L108.7 293.8 L110.3 291.3 L111.7 299.6 L112.8 294.5 L113.8 300.3 L115.4 296.4 L116.4 298.3 L117.4 306.7 L118.6 307.9 L119.6 299.6 L121.3 295.8 L122.8 295.8 L123.8 294.5 L125.4 297.7 L126.9 301.5 L127.9 308.6 L129.2 310.5 L130 316.9 L130.8 311.2 L132.1 309.9 L133.3 307.9 L134.4 310.5 L135.9 318.2 L136.9 308.6 L137.7 305.4 L138.8 306.7 L140.1 313.1 L141.2 315 L142.7 311.2 L144 314.4 L145.3 310.5 L146.9 309.2 L148.5 311.2 L149.7 304.1 L151.5 309.8 L152.8 310.4 L153.8 315.6 L155.1 310.4 L156.4 312.4 L157.4 309.8 L158.7 310.4 L160 314.9 L161.3 324.5 L162.8 323.9 L164.4 322 L165.4 323.3 L166.7 338 L167.7 336.7 L168.3 341.2 L169.2 336.7 L170.5 336.1 L171.8 337.4 L172.8 336.1 L173.7 338.6 L174.6 334.2 L175.4 322.6 L176.3 320.7 L177.2 313 L178.2 311.1 L179.5 304 L180.5 309.2 L181.8 304.7 L183.1 306.6 L184.4 305.3 L185.6 305.9 L187.4 299.5 L189.1 302.1 L190.8 295.7 L192.1 297 L193.2 300.2 L194.6 298.9 L196.2 302.7 L197.4 295.7 L198.3 284.1 L200 280.2 L200.9 282.2 L201.8 279.6 L203.2 278.9 L203.8 271.3 L204.7 277.7 L206 275.1 L207.3 277 L209.2 267.4 L210.5 272.5 L211.5 275.7 L213.1 271.9 L214.1 269.3 L214.6 257.8 L215 242.4 L215.3 219.4 L216.9 214.5 L217.7 219.4 L218.9 216.4 L219.9 218.4 L221.2 199.6 L222 229.3 L223.2 235.2 L224 243.2 L225.2 235.2 L226.4 227.3 L227.6 218.4 L228.8 228.3 L230 221.4 L230.9 206.5 L232.1 199.6 L233.1 202.6 L234.1 195.6 L234.7 202.6 L235.5 187.7 L236.3 202.6 L237.1 211.5 L237.9 193.7 L239.1 198.6 L240.2 202.6 L241.4 198.6 L242.6 192.7 L243.6 200.6 L245 202.6 L246.2 205.5 L247.4 202.6 L248.6 199.6 L249.8 202.6 L250.7 215.4 L251.7 217.4 L252.7 213.5 L253.9 211.5 L254.7 189.7 L255.9 168.9 L256.9 173.9 L258.1 177.8 L259.1 175.8 L260.4 178.8 L262.4 181.8 L263.6 173.9 L264.6 176.8 L265.6 165.9 L266.6 175.8 L267.6 173.9 L268.8 178.8 L270.3 184.8 L271.3 180.8 L272.3 191.7 L273.1 204.6 L274.3 196.6 L275.5 202.6 L276.9 204.6 L278.1 202.6 L279.3 209.5 L280.2 207.5 L281.2 214.5 L282.6 219.4 L283.6 217.4 L285.2 220.4 L286.6 224.4 L287.8 226.3 L289.4 221.4 L290.5 227.3 L292.1 230.3 L293.3 216.4 L294.5 208.5 L296.5 200.6 L298.1 204.6 L299.7 208.5 L301 225.3 L302.2 225.3 L303 199.6 L303.8 186.7 L305 184.8 L306 196.6 L306.8 195.6 L308 183.8 L309.4 189.7 L310.5 182.8 L311.5 161.5 L312.3 155.2 L313.3 156.2 L314.3 148.3 L315.2 142.3 L316.2 149.3 L317.4 141.3 L318.4 148.3 L319.4 143.3 L320.4 140.3 L321.4 139.4 L322.4 131.4 L323.4 138.4 L324.6 125.5 L325.5 132.4 L326.5 123.5 L327.5 134.4 L328.7 142.3 L329.7 135.4 L331.1 150.2 L332.1 144.3 L333.1 143.3 L334.1 117.6 L335.2 111.6 L336.2 113.6 L337 106.7 L338 111.6 L339 105.7 L340 117.6 L341.2 109.7 L342.2 110.6 L343.2 117.6 L344.4 124.5 L345.5 115.6 L346.7 113.6 L347.9 115.6 L348.9 111.6 L349.9 104.7 L350.9 110.6 L351.9 104.7 L353.1 103.7 L354.3 105.7 L355.4 115.6 L356.4 109.7 L357.6 120.5 L358.8 118.6 L359.8 130.4 L360.8 136.4 L361.8 132.4 L363 138.4 L364 121.5 L365 120.5 L365.9 109.7 L367.3 105.7 L368.9 106.7 L370.1 105.7 L370.9 89.9 L371.9 88.9 L372.9 92.8 L374.1 90.8 L374.9 92.8 L375.6 109.7 L376.8 101.7 L377.8 103.7 L379 99.8 L380 100.7 L381 96.8 L382 105.7 L383 115.6 L384.4 113.6 L385.7 113.6 L386.7 110.6 L387.7 95.8 L388.5 90.8 L389.3 86.9 L390.1 94.8 L391.1 91.8 L391.9 96.8 L392.7 93.8 L393.7 110.6 L394.7 105.7 L395.8 110.6 L397 114.6 L398 106.7 L399 114.6 L400 104.7 L401 98.8 L402 111.6 L403 110.6 L404 122.5 L405 126.5 L406.1 121.5 L406.9 116.6 L407.9 122.5 L408.9 117.6 L409.9 125.5 L410.9 110.6 L411.9 124.5 L412.9 127.5 L413.7 122.5 L414.9 133.4 L416 126.5 L417.2 130.4 L418.4 109.7 L419.9 97.4 L421.1 95.4 L422.1 90.5 L423.3 92.5 L424.3 91.5 L425.4 90.5 L426.4 73.6 L427.4 71.7 L428.4 65.7 L429.4 61.8 L430.4 68.7 L431.4 66.7 L432.6 70.7 L433.6 63.7 L434.6 65.7 L435.5 58.8 L436.5 66.7 L437.5 62.8 L438.7 67.7 L439.9 63.7 L441.1 66.7 L442.3 64.7 L443.3 74.6 L444.5 71.7 L445.6 70.7 L446.6 58.8 L447.6 48.9 L449 48.9 L450.2 46.9 L451.2 53.8 L452.2 61.8 L453.4 60.8 L454.4 64.7 L455.5 67.7 L456.7 58.8 L457.7 57.8 L458.9 64.7 L459.9 76.6 L460.9 82.6 L462.1 79.6 L463.1 85.5 L464.3 77.6 L465.2 86.5 L466.2 92.5 L467.2 86.5 L468.2 74.6 L469.4 72.7 L470.4 70.7 L471.4 67.7 L472.2 77.6 L473 95.4 L474 100.4 L475.3 98.4 L476.5 96.4 L477.7 97.4 L478.9 94.4 L480.1 97.4 L481.3 92.5 L482.5 94.4 L483.7 89.5 L484.9 83.5 L486 76.6 L487.2 69.7 L488.4 70.7 L489.6 72.7 L490.8 72.7 L492 74.6 L493.2 73.6 L494.4 75.6 L495.3 73.6 L496.1 64.7 L496.9 77.6 L497.9 82.6 L499.1 79.6 L500.3 80.6 L501.5 76.6 L502.7 74.6 L503.7 70.7 L504.7 77.6 L505.8 85.5 L507 84.5 L508.2 86.5 L509.2 90.5 L510.4 82.6 L511.4 77.6 L512.2 89.5 L513 100.4 L514.2 97.4 L515.1 92.5 L516.1 88.5 L517.1 89.5 L518.1 95.4 L519.3 97.4 L520.3 100.4 L521.3 102.4 L522.4 95.2 L523.6 94.2 L524.8 91.2 L525.5 95.2 L526.7 79.4 L527.7 84.3 L528.7 78.4 L529.7 65.5 L530.7 66.5 L531.7 61.5 L532.7 60.5 L533.7 63.5 L534.7 69.5 L535.6 71.4 L536.6 67.5 L537.8 81.3 L538.8 69.5 L539.8 71.4 L540.8 62.5 L541.8 54.6 L543 55.6 L544.2 58.6 L545.3 65.5 L546.3 61.5 L547.3 58.6 L548.5 57.6 L549.7 63.5 L550.7 60.5 L551.7 64.5 L552.9 61.5 L554.1 62.5 L555.2 66.5 L556.4 63.5 L557.6 61.5 L558.8 59.6 L560 56.6 L560.8 44.7 L561.6 39.8 L562.6 38.8 L563.6 40.7 L564.8 38.8 L565.9 40.7 L566.7 43.7 L567.7 39.8 L568.7 38.8 L569.7 31.8 L570.5 27.9 L571.5 26.9 L572.5 26.9 L573.1 31.8 L573.7 47.7 L574.5 48.7 L575.2 59.6 L575.6 80 L575.9 96.7 L576.7 103.6 L577.9 106.6 L578.9 100.6 L579.9 109.6 L580.7 113.5 L581.3 126.4 L582.1 114.5 L583 109.6 L584 113.5 L585 108.6 L586 107.6 L587 113.5 L588 115.5 L589 111.5 L590.2 111.5 L591.2 106.6 L592.4 98.7 L593.3 103.6 L594.3 109.6 L595.3 107.6 L596.3 103.6 L597.3 106.6 L598.3 114.5 L599.3 110.5 L600.3 119.5 L601.3 123.4 L602.1 118.5 L602.9 134.3 L603.8 125.4 L604.8 123.4 L605.8 126.4 L607 119.5 L608 118.5 L609 117.5 L610 121.4 L611 125.4 L612 128.4 L613 124.4 L613.9 123.4 L614.7 113.5 L615.7 113.5 L616.7 115.5 L617.7 114.5 L618.7 116.5 L619.5 125.4 L620.1 112.5 L620.9 129.4 L621.9 132.3 L622.9 135.3 L623.8 133.3 L624.4 109.6 L625 141.2 L625.8 132.3 L626.8 128.4 L627.8 126.4 L629 125.4 L630 121.4 L631 114.5 L632 111.5 L632.8 104.6 L633.9 106.6 L634.9 102.6 L635.9 97.7 L636.9 98.7 L637.9 101.6 L638.9 96.7 L639.9 95.7 L640.9 91.7 L641.9 83.8 L642.9 86.8 L643.8 83.8 L644.8 87.8 L645.8 89.8 L646.8 82.8 L647.8 82.8 L648.8 89.8 L649.6 83.8 L650.6 90.7 L651.6 89.8 L652.2 96.7 L652.9 89.8 L653.9 85.8 L654.9 82.8 L655.9 86.8 L656.9 89.8 L657.9 90.7 L658.9 87.8 L659.9 91.7 L660.9 95.7 L661.7 89.8 L662.5 81.8 L663.2 72.9 L664.2 72.9 L665.2 74.9 L666.2 75.9 L667.2 77.9 L668.2 78.9 L669.2 82.8 L670.2 80.8 L671.2 82.8 L672.2 79.9 L673 82.8 L673.9 90.7 L674.9 86.8 L675.9 87.8 L676.9 89.8 L677.9 93.7 L678.7 101.6 L679.4 113.9 L680.2 116.9 L680.8 124.8 L681.4 126.8 L682 142.6 L682.8 136.7 L683.8 137.7 L684.6 143.6 L685.3 147.6 L685.9 152.5 L686.3 168.4 L686.9 152.5 L687.7 157.5 L688.5 148.6 L689.5 145.6 L690.5 149.6 L691.3 155.5 L692.1 168.4 L692.9 163.4 L693.7 183.2 L694.3 184.2 L694.9 164.4 L695.6 163.4 L696.6 157.5 L697.6 164.4 L698.6 157.5 L699.6 146.6 L700.6 143.6 L701.6 142.6 L702.6 140.6 L703.2 145.6 L704 136.7 L705 130.7 L705.9 134.7 L706.7 143.6 L707.5 139.7 L708.3 135.7 L708.9 125.8 L709.9 126.8 L710.7 125.8 L711.5 130.7 L712.3 134.7 L713.1 132.7 L713.7 124.8 L714.3 138.7 L714.9 164.4 L715.4 176.3 L716.2 162.4 L717 164.4 L717.8 154.5 L718.6 150.5 L719.4 153.5 L720.2 158.5 L721 154.5 L722 158.5 L723 155.5 L724 157.5 L725 155.5 L725.9 156.5 L726.9 154.5 L727.9 159.5 L728.9 163.4 L729.7 162.4 L730.1 173.3 L730.7 147.6 L731.7 146.6 L732.7 147.6 L733.7 145.6 L734.7 148.6 L735.4 141.6 L736.2 134.7 L737.2 134.7 L738 139.7 L739 140.6 L740 142.6 L740.8 147.6 L741.6 146.6 L742.6 151.5 L743.6 154.5 L744.6 158.5 L745.3 154.5 L746.1 163.4 L746.9 166.4 L747.7 162.4 L748.7 164.4 L749.5 169.4 L750.3 172.3 L751.1 168.4 L752.1 175.3 L752.7 165.4 L753.5 162.4 L754.3 157.5 L755.2 158.5 L756.2 156.5 L757.2 156.5 L758 167.4 L759 170.3 L759.8 168.4 L760.6 152.5 L761.4 138.7 L762.2 135.7 L763 139.7 L763.8 143.6 L764.6 138.7 L765.3 141.6 L766.1 138.7 L766.9 129.8 L767.9 136.7 L768.9 132.7 L769.9 135.7 L770.9 128.8 L771.7 116.9 L772.2 105 L772.5 84.8" fill="none" stroke="#ea3943" stroke-width="1" stroke-linejoin="round" clip-path="url(#dn)"/>
<path d="M29.5 379.3 L33.3 379 L36.7 377.7 L40 379.3 L43.3 378.7 L47.3 376 L50.7 378.3 L55 378.7 L60 376 L65 378.7 L69.3 376.3 L72.7 374.3 L76.7 377 L80 378 L84 377 L88.3 379 L92.7 382.3 L97.3 384 L101.7 382 L106.7 379.7 L110.7 381.7 L114 384 L118.3 382 L122.7 383 L126.7 383.7 L131.7 382 L136 379.7 L140 380 L144 381.7 L148.3 384 L153.3 385 L158.3 385.7 L162.7 383.7 L166.7 380.3 L170.7 380.7 L174 381.7 L177.3 380.3 L181.3 376.3 L185 378.3 L188.3 382.7 L191.7 383.7 L196 384.3 L199.3 380.3 L200 380.5 L205 380.2 L207 383.3 L212.5 383.3 L214.7 384 L215.3 374.2 L216.7 370.8 L218.7 367.5 L220.8 365 L222 356.7 L223.5 356.7 L224 363.3 L225.8 365.8 L227.5 365 L228.8 364.2 L230 367.5 L231.3 370.8 L233.3 368.3 L235.3 367.5 L237.5 368 L238.7 365.3 L240 369.2 L241.7 370.8 L243.7 372.5 L245.3 375 L247.2 378 L248.7 377.5 L250 378.7 L252 378 L254.7 378.7 L255.7 372.5 L257 370.8 L258.3 370.3 L260 372.5 L262 373.3 L263.3 375.8 L265 379.2 L267.2 380 L269.2 381 L271.3 379.2 L273.3 378 L275.8 376.7 L277.5 375.8 L279.2 376.7 L281.3 378.7 L283.3 379.2 L285 378.7 L287.5 378.3 L290 379.2 L292.5 380.3 L295 379.3 L297.5 379 L300 379.7 L302 377.5 L303.3 372.5 L305 370.3 L307.5 369.2 L309.2 368 L310.8 369.7 L312 366.7 L314.2 367 L316.7 365.8 L318 365 L319.2 362.8 L320 366.3 L322.5 366.7 L324.2 365.8 L325.8 366.7 L327.5 369.2 L330 369.7 L330.7 369.3 L334 368.3 L337.3 367.3 L340.7 367.3 L344 369 L348.3 371 L352.7 370.3 L357.3 370 L361.7 369.7 L364.7 371 L365.7 377.7 L366.7 373.3 L370 374 L373.3 372.7 L377.3 372.3 L381.7 373.7 L385 374.3 L389.3 372.3 L393.3 371.7 L398.3 372.3 L402.7 371.7 L406.7 369.7 L410 369.7 L414 372.3 L417.3 373.7 L420 369 L422.7 367.3 L426 368.3 L429.3 370 L432.7 366.7 L435 363.7 L437 363 L439.3 367.7 L442 371.7 L444 376.7 L445.7 379.3 L447.7 375 L450 372.7 L454 371 L458.3 369.7 L462.3 368.7 L466 371.7 L470 371.7 L474 369.7 L476 369 L479.3 371.7 L483.3 373 L487.3 371 L490.7 373 L494 375 L498.3 375.7 L501.7 377 L504 378.7 L507.3 377 L510.7 375.7 L514 373.7 L517.3 371 L520.7 370.3 L523.3 368.3 L527.3 366.3 L531.7 366.7 L536 367 L540 365.7 L542.3 361 L545 363.3 L548.3 365 L551.7 368.3 L556 369.3 L558.3 373.3 L560.3 376.7 L563.3 373.3 L566.7 370 L570 367.7 L572.7 364.3 L575 360 L576 350 L577.3 343.3 L580 343 L582.7 342.3 L583.7 345 L584.7 356.7 L588.3 357.7 L590 361 L592.7 361.7 L595 365.7 L597.3 368.3 L599.3 371 L601.7 368.3 L604 366.7 L607.3 366 L610 368.3 L612.7 371 L615 372.3 L617.3 376.7 L620.7 376.3 L623.3 374.3 L625.3 368.3 L626.7 365.7 L630 365 L632.7 363.7 L635 366.7 L637.3 368.3 L640 372.3 L643.3 375 L647.3 373.7 L651.7 373 L656 373.7 L660 375.7 L664 375.3 L668.3 375.7 L672.7 376.3 L676.7 377 L678.7 377.7 L680.7 373.3 L682.7 366.7 L685 362.3 L687.3 360 L689.3 359.3 L691.3 362.3 L693.3 358.3 L695.3 357.7 L697.3 361 L700 362.3 L702.7 366.7 L705.3 368.3 L708.3 367.7 L710.7 369.7 L713.3 371.7 L715.3 365.7 L717.3 363.7 L720 363 L722 364.3 L724 370 L726.7 372.3 L729.3 375 L731.7 372.3 L734 375.7 L736.7 372.3 L738.7 375.7 L741.7 374.3 L745 373 L750 372.7 L753.3 373 L755.3 376.3 L757.3 373.7 L760 373 L762.7 371.7 L765 373.7 L767.3 373.3 L769.3 375 L771.3 373.3 L772.7 368.3 L773.3 368.3 L773.3 401.5 L29.5 401.5 Z" fill="#cfd6e4"/>
<rect x="8" y="269.9" width="21.3" height="7.6" fill="#8d93a8"/>
<text x="18.6" y="275.2" font-size="4.15" font-weight="700" fill="#fff" text-anchor="middle">29.15K</text>
<path d="M33.5 401.5 V403 M66.6 401.5 V403 M99.6 401.5 V403 M132.7 401.5 V403 M165.7 401.5 V403 M198.8 401.5 V403 M231.9 401.5 V403 M264.9 401.5 V403 M298 401.5 V403 M331 401.5 V403 M364.1 401.5 V403 M397.2 401.5 V403 M430.2 401.5 V403 M463.3 401.5 V403 M521.1 401.5 V403 M554.2 401.5 V403 M587.3 401.5 V403 M620.3 401.5 V403 M653.4 401.5 V403 M686.4 401.5 V403 M719.5 401.5 V403" stroke="#8e96aa" stroke-width="0.4" fill="none"/>
<g font-size="4.6" fill="#7c859b" text-anchor="middle">
<text x="33.5" y="409.2">4</text>
<text x="66.6" y="409.2">8</text>
<text x="99.6" y="409.2">12</text>
<text x="132.7" y="409.2">16</text>
<text x="165.7" y="409.2">20</text>
<text x="198.8" y="409.2">24</text>
<text x="231.9" y="409.2">28</text>
<text x="264.9" y="409.2" font-weight="700" fill="#58627a">Aug</text>
<text x="298" y="409.2">5</text>
<text x="331" y="409.2">9</text>
<text x="364.1" y="409.2">13</text>
<text x="397.2" y="409.2">17</text>
<text x="430.2" y="409.2">21</text>
<text x="463.3" y="409.2">25</text>
<text x="521.1" y="409.2" font-weight="700" fill="#58627a">Sep</text>
<text x="554.2" y="409.2">5</text>
<text x="587.3" y="409.2">9</text>
<text x="620.3" y="409.2">13</text>
<text x="653.4" y="409.2">17</text>
<text x="686.4" y="409.2">21</text>
<text x="719.5" y="409.2">25</text>
</g>
<text x="17.8" y="408.6" font-size="4.7" font-weight="700" fill="#66708a" text-anchor="middle">EUR</text>
<rect x="29.7" y="412.2" width="743.7" height="20.1" fill="#eff3ff"/>
<path d="M33.5 412.2 V432.3 M66.6 412.2 V432.3 M99.6 412.2 V432.3 M132.7 412.2 V432.3 M165.7 412.2 V432.3 M198.8 412.2 V432.3 M231.9 412.2 V432.3 M264.9 412.2 V432.3 M298 412.2 V432.3 M331 412.2 V432.3 M364.1 412.2 V432.3 M397.2 412.2 V432.3 M430.2 412.2 V432.3 M463.3 412.2 V432.3 M521.1 412.2 V432.3 M554.2 412.2 V432.3 M587.3 412.2 V432.3 M620.3 412.2 V432.3 M653.4 412.2 V432.3 M686.4 412.2 V432.3 M719.5 412.2 V432.3" stroke="#e3e8f8" stroke-width="0.4" fill="none"/>
<path d="M29.8 426.9 L31.3 426.9 L32.8 427 L34.3 426.8 L35.8 426.5 L37.3 426.5 L38.8 426.4 L40.3 426.4 L41.8 426.9 L43.3 427.1 L44.8 427.4 L46.3 427.6 L47.8 427.4 L49.3 427.4 L50.8 427.1 L52.3 427 L53.8 427.2 L55.3 427.3 L56.8 427.3 L58.3 427.1 L59.8 426.9 L61.3 426.8 L62.8 426.8 L64.3 426.9 L65.8 427.4 L67.3 427.8 L68.8 428.1 L70.3 428.1 L71.8 428 L73.3 428.1 L74.8 428.1 L76.3 428 L77.8 428 L79.3 427.7 L80.8 427.6 L82.3 427.4 L83.8 427.5 L85.3 427.5 L86.8 427.5 L88.3 427.5 L89.8 427.7 L91.3 427.6 L92.8 427.7 L94.3 427.5 L95.8 427.4 L97.3 427.4 L98.8 427.2 L100.3 427.2 L101.8 427.3 L103.3 427.6 L104.8 427.8 L106.3 428 L107.8 427.9 L109.3 427.9 L110.8 428 L112.3 428.1 L113.8 428.1 L115.3 428.1 L116.8 428.3 L118.3 428.5 L119.8 428.2 L121.3 428 L122.8 428 L124.3 428 L125.8 428.1 L127.3 428.4 L128.8 428.7 L130.3 428.8 L131.8 428.7 L133.3 428.6 L134.8 428.8 L136.3 428.8 L137.8 428.5 L139.3 428.6 L140.8 428.8 L142.3 428.8 L143.8 428.8 L145.3 428.7 L146.8 428.6 L148.3 428.6 L149.8 428.5 L151.3 428.6 L152.8 428.7 L154.3 428.8 L155.8 428.7 L157.3 428.7 L158.8 428.7 L160.3 429 L161.8 429.3 L163.3 429.2 L164.8 429.2 L166.3 429.6 L167.8 429.9 L169.3 429.9 L170.8 429.8 L172.3 429.8 L173.8 429.8 L175.3 429.4 L176.8 428.9 L178.3 428.6 L179.8 428.5 L181.3 428.5 L182.8 428.5 L184.3 428.5 L185.8 428.4 L187.3 428.2 L188.8 428.2 L190.3 428.1 L191.8 428.1 L193.3 428.2 L194.8 428.2 L196.3 428.2 L197.8 427.8 L199.3 427.4 L200.8 427.4 L202.3 427.3 L203.8 427.1 L205.3 427.1 L206.8 427.1 L208.3 427 L209.8 426.9 L211.3 427.1 L212.8 427 L214.3 426.4 L215.8 424.7 L217.3 424.5 L218.8 424.5 L220.3 424.3 L221.8 424.6 L223.3 425.4 L224.8 425.4 L226.3 425 L227.8 424.8 L229.3 424.8 L230.8 424.2 L232.3 423.8 L233.8 423.7 L235.3 423.6 L236.8 423.9 L238.3 423.6 L239.8 423.8 L241.3 423.7 L242.8 423.6 L244.3 423.8 L245.8 423.9 L247.3 423.9 L248.8 423.8 L250.3 424.2 L251.8 424.5 L253.3 424.3 L254.8 423.3 L256.3 422.5 L257.8 422.7 L259.3 422.7 L260.8 422.8 L262.3 422.9 L263.8 422.7 L265.3 422.5 L266.8 422.6 L268.3 422.7 L269.8 423 L271.3 423.1 L272.8 423.6 L274.3 423.7 L275.8 423.9 L277.3 423.9 L278.8 424 L280.3 424.2 L281.8 424.5 L283.3 424.6 L284.8 424.6 L286.3 424.8 L287.8 424.9 L289.3 424.8 L290.8 425 L292.3 424.9 L293.8 424.3 L295.3 424 L296.8 423.8 L298.3 424 L299.8 424.3 L301.3 424.8 L302.8 424.1 L304.3 423.2 L305.8 423.4 L307.3 423.3 L308.8 423.2 L310.3 422.9 L311.8 422 L313.3 421.7 L314.8 421.4 L316.3 421.3 L317.8 421.3 L319.3 421.3 L320.8 421.1 L322.3 420.9 L323.8 420.8 L325.3 420.6 L326.8 420.6 L328.3 421 L329.8 421.1 L331.3 421.4 L332.8 421.1 L334.3 420.2 L335.8 419.8 L337.3 419.7 L338.8 419.7 L340.3 419.9 L341.8 419.8 L343.3 420.1 L344.8 420.2 L346.3 419.9 L347.8 419.9 L349.3 419.7 L350.8 419.6 L352.3 419.5 L353.8 419.5 L355.3 419.8 L356.8 419.9 L358.3 420.2 L359.8 420.6 L361.3 420.8 L362.8 420.8 L364.3 420.3 L365.8 419.9 L367.3 419.6 L368.8 419.6 L370.3 419.3 L371.8 418.9 L373.3 418.9 L374.8 419.2 L376.3 419.5 L377.8 419.4 L379.3 419.3 L380.8 419.3 L382.3 419.7 L383.8 419.9 L385.3 419.9 L386.8 419.6 L388.3 419 L389.8 418.9 L391.3 419 L392.8 419.3 L394.3 419.6 L395.8 419.8 L397.3 419.8 L398.8 419.8 L400.3 419.5 L401.8 419.6 L403.3 420 L404.8 420.4 L406.3 420.2 L407.8 420.2 L409.3 420.2 L410.8 420.1 L412.3 420.4 L413.8 420.5 L415.3 420.6 L416.8 420.5 L418.3 419.9 L419.8 419.3 L421.3 419 L422.8 418.9 L424.3 418.9 L425.8 418.5 L427.3 418 L428.8 417.7 L430.3 417.8 L431.8 417.9 L433.3 417.8 L434.8 417.7 L436.3 417.7 L437.8 417.7 L439.3 417.8 L440.8 417.8 L442.3 417.9 L443.8 418.1 L445.3 417.9 L446.8 417.4 L448.3 417 L449.8 417 L451.3 417.3 L452.8 417.6 L454.3 417.7 L455.8 417.7 L457.3 417.5 L458.8 417.8 L460.3 418.3 L461.8 418.5 L463.3 418.5 L464.8 418.6 L466.3 418.8 L467.8 418.4 L469.3 418.1 L470.8 418 L472.3 418.5 L473.8 419.2 L475.3 419.2 L476.8 419.2 L478.3 419.1 L479.8 419.1 L481.3 419 L482.8 419 L484.3 418.7 L485.8 418.3 L487.3 418 L488.8 418 L490.3 418.1 L491.8 418.1 L493.3 418.2 L494.8 418.1 L496.3 418 L497.8 418.4 L499.3 418.4 L500.8 418.4 L502.3 418.2 L503.8 418.1 L505.3 418.5 L506.8 418.6 L508.3 418.7 L509.8 418.7 L511.3 418.5 L512.8 419.1 L514.3 419.1 L515.8 418.9 L517.3 418.9 L518.8 419.1 L520.3 419.3 L521.8 419.2 L523.3 419 L524.8 419 L526.3 418.7 L527.8 418.5 L529.3 418 L530.8 417.7 L532.3 417.6 L533.8 417.7 L535.3 418 L536.8 418.1 L538.3 418.2 L539.8 417.9 L541.3 417.5 L542.8 417.3 L544.3 417.5 L545.8 417.7 L547.3 417.5 L548.8 417.5 L550.3 417.6 L551.8 417.7 L553.3 417.6 L554.8 417.7 L556.3 417.7 L557.8 417.6 L559.3 417.4 L560.8 416.9 L562.3 416.6 L563.8 416.6 L565.3 416.6 L566.8 416.7 L568.3 416.6 L569.8 416.3 L571.3 416.1 L572.8 416.3 L574.3 417.1 L575.8 418.6 L577.3 419.5 L578.8 419.5 L580.3 419.9 L581.8 420.1 L583.3 419.8 L584.8 419.8 L586.3 419.8 L587.8 419.9 L589.3 419.8 L590.8 419.7 L592.3 419.4 L593.8 419.6 L595.3 419.6 L596.8 419.6 L598.3 419.8 L599.8 420 L601.3 420.2 L602.8 420.5 L604.3 420.4 L605.8 420.4 L607.3 420.2 L608.8 420.1 L610.3 420.3 L611.8 420.5 L613.3 420.4 L614.8 420 L616.3 419.9 L617.8 420 L619.3 420.1 L620.8 420.4 L622.3 420.8 L623.8 420.5 L625.3 420.7 L626.8 420.6 L628.3 420.5 L629.8 420.3 L631.3 419.9 L632.8 419.6 L634.3 419.5 L635.8 419.3 L637.3 419.3 L638.8 419.2 L640.3 419 L641.8 418.7 L643.3 418.7 L644.8 418.7 L646.3 418.7 L647.8 418.6 L649.3 418.7 L650.8 418.8 L652.3 418.9 L653.8 418.7 L655.3 418.6 L656.8 418.8 L658.3 418.8 L659.8 418.9 L661.3 418.9 L662.8 418.4 L664.3 418.1 L665.8 418.2 L667.3 418.3 L668.8 418.4 L670.3 418.5 L671.8 418.5 L673.3 418.7 L674.8 418.8 L676.3 418.8 L677.8 419.1 L679.3 419.7 L680.8 420.4 L682.3 420.9 L683.8 421 L685.3 421.5 L686.8 421.9 L688.3 421.6 L689.8 421.4 L691.3 421.9 L692.8 422.4 L694.3 422.7 L695.8 422 L697.3 422 L698.8 421.7 L700.3 421.3 L701.8 421.2 L703.3 421.1 L704.8 420.8 L706.3 421 L707.8 421 L709.3 420.5 L710.8 420.5 L712.3 420.8 L713.8 420.9 L715.3 422.2 L716.8 422.1 L718.3 421.7 L719.8 421.8 L721.3 421.8 L722.8 421.8 L724.3 421.8 L725.8 421.8 L727.3 421.8 L728.8 422.1 L730.3 421.9 L731.8 421.4 L733.3 421.4 L734.8 421.3 L736.3 420.9 L737.8 421 L739.3 421.1 L740.8 421.3 L742.3 421.5 L743.8 421.8 L745.3 421.9 L746.8 422.2 L748.3 422.2 L749.8 422.4 L751.3 422.5 L752.8 422.3 L754.3 421.9 L755.8 421.9 L757.3 422 L758.8 422.4 L760.3 421.9 L761.8 421 L763.3 421.1 L764.8 421.1 L766.3 420.9 L767.8 420.8 L769.3 420.8 L770.8 420.5 L772.3 419.3 L773.4 418.6 L773.4 432.3 L29.8 432.3 Z" fill="#dfe6fd"/>
<path d="M29.8 426.9 L31.3 426.9 L32.8 427 L34.3 426.8 L35.8 426.5 L37.3 426.5 L38.8 426.4 L40.3 426.4 L41.8 426.9 L43.3 427.1 L44.8 427.4 L46.3 427.6 L47.8 427.4 L49.3 427.4 L50.8 427.1 L52.3 427 L53.8 427.2 L55.3 427.3 L56.8 427.3 L58.3 427.1 L59.8 426.9 L61.3 426.8 L62.8 426.8 L64.3 426.9 L65.8 427.4 L67.3 427.8 L68.8 428.1 L70.3 428.1 L71.8 428 L73.3 428.1 L74.8 428.1 L76.3 428 L77.8 428 L79.3 427.7 L80.8 427.6 L82.3 427.4 L83.8 427.5 L85.3 427.5 L86.8 427.5 L88.3 427.5 L89.8 427.7 L91.3 427.6 L92.8 427.7 L94.3 427.5 L95.8 427.4 L97.3 427.4 L98.8 427.2 L100.3 427.2 L101.8 427.3 L103.3 427.6 L104.8 427.8 L106.3 428 L107.8 427.9 L109.3 427.9 L110.8 428 L112.3 428.1 L113.8 428.1 L115.3 428.1 L116.8 428.3 L118.3 428.5 L119.8 428.2 L121.3 428 L122.8 428 L124.3 428 L125.8 428.1 L127.3 428.4 L128.8 428.7 L130.3 428.8 L131.8 428.7 L133.3 428.6 L134.8 428.8 L136.3 428.8 L137.8 428.5 L139.3 428.6 L140.8 428.8 L142.3 428.8 L143.8 428.8 L145.3 428.7 L146.8 428.6 L148.3 428.6 L149.8 428.5 L151.3 428.6 L152.8 428.7 L154.3 428.8 L155.8 428.7 L157.3 428.7 L158.8 428.7 L160.3 429 L161.8 429.3 L163.3 429.2 L164.8 429.2 L166.3 429.6 L167.8 429.9 L169.3 429.9 L170.8 429.8 L172.3 429.8 L173.8 429.8 L175.3 429.4 L176.8 428.9 L178.3 428.6 L179.8 428.5 L181.3 428.5 L182.8 428.5 L184.3 428.5 L185.8 428.4 L187.3 428.2 L188.8 428.2 L190.3 428.1 L191.8 428.1 L193.3 428.2 L194.8 428.2 L196.3 428.2 L197.8 427.8 L199.3 427.4 L200.8 427.4 L202.3 427.3 L203.8 427.1 L205.3 427.1 L206.8 427.1 L208.3 427 L209.8 426.9 L211.3 427.1 L212.8 427 L214.3 426.4 L215.8 424.7 L217.3 424.5 L218.8 424.5 L220.3 424.3 L221.8 424.6 L223.3 425.4 L224.8 425.4 L226.3 425 L227.8 424.8 L229.3 424.8 L230.8 424.2 L232.3 423.8 L233.8 423.7 L235.3 423.6 L236.8 423.9 L238.3 423.6 L239.8 423.8 L241.3 423.7 L242.8 423.6 L244.3 423.8 L245.8 423.9 L247.3 423.9 L248.8 423.8 L250.3 424.2 L251.8 424.5 L253.3 424.3 L254.8 423.3 L256.3 422.5 L257.8 422.7 L259.3 422.7 L260.8 422.8 L262.3 422.9 L263.8 422.7 L265.3 422.5 L266.8 422.6 L268.3 422.7 L269.8 423 L271.3 423.1 L272.8 423.6 L274.3 423.7 L275.8 423.9 L277.3 423.9 L278.8 424 L280.3 424.2 L281.8 424.5 L283.3 424.6 L284.8 424.6 L286.3 424.8 L287.8 424.9 L289.3 424.8 L290.8 425 L292.3 424.9 L293.8 424.3 L295.3 424 L296.8 423.8 L298.3 424 L299.8 424.3 L301.3 424.8 L302.8 424.1 L304.3 423.2 L305.8 423.4 L307.3 423.3 L308.8 423.2 L310.3 422.9 L311.8 422 L313.3 421.7 L314.8 421.4 L316.3 421.3 L317.8 421.3 L319.3 421.3 L320.8 421.1 L322.3 420.9 L323.8 420.8 L325.3 420.6 L326.8 420.6 L328.3 421 L329.8 421.1 L331.3 421.4 L332.8 421.1 L334.3 420.2 L335.8 419.8 L337.3 419.7 L338.8 419.7 L340.3 419.9 L341.8 419.8 L343.3 420.1 L344.8 420.2 L346.3 419.9 L347.8 419.9 L349.3 419.7 L350.8 419.6 L352.3 419.5 L353.8 419.5 L355.3 419.8 L356.8 419.9 L358.3 420.2 L359.8 420.6 L361.3 420.8 L362.8 420.8 L364.3 420.3 L365.8 419.9 L367.3 419.6 L368.8 419.6 L370.3 419.3 L371.8 418.9 L373.3 418.9 L374.8 419.2 L376.3 419.5 L377.8 419.4 L379.3 419.3 L380.8 419.3 L382.3 419.7 L383.8 419.9 L385.3 419.9 L386.8 419.6 L388.3 419 L389.8 418.9 L391.3 419 L392.8 419.3 L394.3 419.6 L395.8 419.8 L397.3 419.8 L398.8 419.8 L400.3 419.5 L401.8 419.6 L403.3 420 L404.8 420.4 L406.3 420.2 L407.8 420.2 L409.3 420.2 L410.8 420.1 L412.3 420.4 L413.8 420.5 L415.3 420.6 L416.8 420.5 L418.3 419.9 L419.8 419.3 L421.3 419 L422.8 418.9 L424.3 418.9 L425.8 418.5 L427.3 418 L428.8 417.7 L430.3 417.8 L431.8 417.9 L433.3 417.8 L434.8 417.7 L436.3 417.7 L437.8 417.7 L439.3 417.8 L440.8 417.8 L442.3 417.9 L443.8 418.1 L445.3 417.9 L446.8 417.4 L448.3 417 L449.8 417 L451.3 417.3 L452.8 417.6 L454.3 417.7 L455.8 417.7 L457.3 417.5 L458.8 417.8 L460.3 418.3 L461.8 418.5 L463.3 418.5 L464.8 418.6 L466.3 418.8 L467.8 418.4 L469.3 418.1 L470.8 418 L472.3 418.5 L473.8 419.2 L475.3 419.2 L476.8 419.2 L478.3 419.1 L479.8 419.1 L481.3 419 L482.8 419 L484.3 418.7 L485.8 418.3 L487.3 418 L488.8 418 L490.3 418.1 L491.8 418.1 L493.3 418.2 L494.8 418.1 L496.3 418 L497.8 418.4 L499.3 418.4 L500.8 418.4 L502.3 418.2 L503.8 418.1 L505.3 418.5 L506.8 418.6 L508.3 418.7 L509.8 418.7 L511.3 418.5 L512.8 419.1 L514.3 419.1 L515.8 418.9 L517.3 418.9 L518.8 419.1 L520.3 419.3 L521.8 419.2 L523.3 419 L524.8 419 L526.3 418.7 L527.8 418.5 L529.3 418 L530.8 417.7 L532.3 417.6 L533.8 417.7 L535.3 418 L536.8 418.1 L538.3 418.2 L539.8 417.9 L541.3 417.5 L542.8 417.3 L544.3 417.5 L545.8 417.7 L547.3 417.5 L548.8 417.5 L550.3 417.6 L551.8 417.7 L553.3 417.6 L554.8 417.7 L556.3 417.7 L557.8 417.6 L559.3 417.4 L560.8 416.9 L562.3 416.6 L563.8 416.6 L565.3 416.6 L566.8 416.7 L568.3 416.6 L569.8 416.3 L571.3 416.1 L572.8 416.3 L574.3 417.1 L575.8 418.6 L577.3 419.5 L578.8 419.5 L580.3 419.9 L581.8 420.1 L583.3 419.8 L584.8 419.8 L586.3 419.8 L587.8 419.9 L589.3 419.8 L590.8 419.7 L592.3 419.4 L593.8 419.6 L595.3 419.6 L596.8 419.6 L598.3 419.8 L599.8 420 L601.3 420.2 L602.8 420.5 L604.3 420.4 L605.8 420.4 L607.3 420.2 L608.8 420.1 L610.3 420.3 L611.8 420.5 L613.3 420.4 L614.8 420 L616.3 419.9 L617.8 420 L619.3 420.1 L620.8 420.4 L622.3 420.8 L623.8 420.5 L625.3 420.7 L626.8 420.6 L628.3 420.5 L629.8 420.3 L631.3 419.9 L632.8 419.6 L634.3 419.5 L635.8 419.3 L637.3 419.3 L638.8 419.2 L640.3 419 L641.8 418.7 L643.3 418.7 L644.8 418.7 L646.3 418.7 L647.8 418.6 L649.3 418.7 L650.8 418.8 L652.3 418.9 L653.8 418.7 L655.3 418.6 L656.8 418.8 L658.3 418.8 L659.8 418.9 L661.3 418.9 L662.8 418.4 L664.3 418.1 L665.8 418.2 L667.3 418.3 L668.8 418.4 L670.3 418.5 L671.8 418.5 L673.3 418.7 L674.8 418.8 L676.3 418.8 L677.8 419.1 L679.3 419.7 L680.8 420.4 L682.3 420.9 L683.8 421 L685.3 421.5 L686.8 421.9 L688.3 421.6 L689.8 421.4 L691.3 421.9 L692.8 422.4 L694.3 422.7 L695.8 422 L697.3 422 L698.8 421.7 L700.3 421.3 L701.8 421.2 L703.3 421.1 L704.8 420.8 L706.3 421 L707.8 421 L709.3 420.5 L710.8 420.5 L712.3 420.8 L713.8 420.9 L715.3 422.2 L716.8 422.1 L718.3 421.7 L719.8 421.8 L721.3 421.8 L722.8 421.8 L724.3 421.8 L725.8 421.8 L727.3 421.8 L728.8 422.1 L730.3 421.9 L731.8 421.4 L733.3 421.4 L734.8 421.3 L736.3 420.9 L737.8 421 L739.3 421.1 L740.8 421.3 L742.3 421.5 L743.8 421.8 L745.3 421.9 L746.8 422.2 L748.3 422.2 L749.8 422.4 L751.3 422.5 L752.8 422.3 L754.3 421.9 L755.8 421.9 L757.3 422 L758.8 422.4 L760.3 421.9 L761.8 421 L763.3 421.1 L764.8 421.1 L766.3 420.9 L767.8 420.8 L769.3 420.8 L770.8 420.5 L772.3 419.3 L773.4 418.6" fill="none" stroke="#7393f2" stroke-width="0.6" stroke-linejoin="round"/>
<g font-size="4.6" fill="#7c859b" text-anchor="middle">
<text x="33.5" y="429.8">4</text>
<text x="66.6" y="429.8">8</text>
<text x="99.6" y="429.8">12</text>
<text x="132.7" y="429.8">16</text>
<text x="165.7" y="429.8">20</text>
<text x="198.8" y="429.8">24</text>
<text x="231.9" y="429.8">28</text>
<text x="264.9" y="429.8" font-weight="700" fill="#58627a">Aug</text>
<text x="298" y="429.8">5</text>
<text x="331" y="429.8">9</text>
<text x="364.1" y="429.8">13</text>
<text x="397.2" y="429.8">17</text>
<text x="430.2" y="429.8">21</text>
<text x="463.3" y="429.8">25</text>
<text x="521.1" y="429.8" font-weight="700" fill="#58627a">Sep</text>
<text x="554.2" y="429.8">5</text>
<text x="587.3" y="429.8">9</text>
<text x="620.3" y="429.8">13</text>
<text x="653.4" y="429.8">17</text>
<text x="686.4" y="429.8">21</text>
<text x="719.5" y="429.8">25</text>
</g>
<rect x="27.7" y="418.3" width="4.2" height="7" rx="1.6" fill="#fff" stroke="#e4e8f0" stroke-width="0.4"/>
<path d="M29.4 420.7 V422.9 M30.2 420.7 V422.9" stroke="#b9c0d0" stroke-width="0.35"/>
<rect x="771.1" y="418.3" width="4.2" height="7" rx="1.6" fill="#fff" stroke="#e4e8f0" stroke-width="0.4"/>
<path d="M772.8 420.7 V422.9 M773.7 420.7 V422.9" stroke="#b9c0d0" stroke-width="0.35"/>
<g opacity="0.9">
<circle cx="717.2" cy="285.7" r="4.3" fill="none" stroke="#d3d9ea" stroke-width="0.9"/>
<path d="M714.6 287.6 L715.8 283.9 L717.2 286.6 L718.6 283.9 L719.8 287.6" fill="none" stroke="#d3d9ea" stroke-width="0.9" stroke-linejoin="round" stroke-linecap="round"/>
<text x="725" y="288.3" font-size="6.1" font-weight="700" fill="#d3d9ea">CoinMarketCap</text>
</g>
</svg></body></html>
